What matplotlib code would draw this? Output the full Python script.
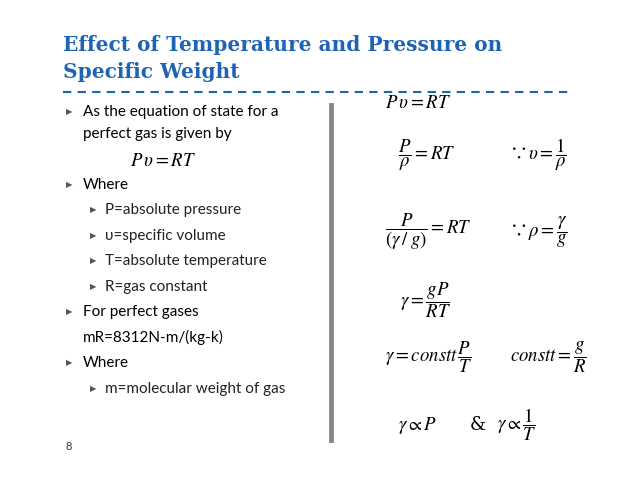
import matplotlib
matplotlib.use("Agg")
import matplotlib.pyplot as plt
from matplotlib.lines import Line2D

plt.rcParams['mathtext.fontset'] = 'stix'

title_lines = ["Effect of Temperature and Pressure on", "Specific Weight"]
# (level, text, y) ; level 0 = main bullet, 1 = sub bullet, -1 = continuation
left_items = [
    (0, "As the equation of state for a", 112),
    (-1, "perfect gas is given by", 134),
    (0, "Where", 185),
    (1, "P=absolute pressure", 210),
    (1, "\u03c5=specific volume", 236),
    (1, "T=absolute temperature", 261),
    (1, "R=gas constant", 287),
    (0, "For perfect gases", 312),
    (-1, "mR=8312N-m/(kg-k)", 337),
    (0, "Where", 363),
    (1, "m=molecular weight of gas", 389),
]
# (math, x, y)
equations = [
    (r"$P\,\upsilon = RT$", 385, 102),
    (r"$\dfrac{P}{\rho} = RT$", 398, 155),
    (r"$\upsilon = \dfrac{1}{\rho}$", 528, 155),
    (r"$\dfrac{P}{(\gamma\,/\;g)} = RT$", 385, 232),
    (r"$\rho = \dfrac{\gamma}{g}$", 528, 232),
    (r"$\gamma = \dfrac{gP}{RT}$", 400, 300),
    (r"$\gamma = constt\,\dfrac{P}{T}$", 385, 357),
    (r"$constt = \dfrac{g}{R}$", 510, 357),
    (r"$\gamma \propto P$", 398, 425),
    (r"$\gamma \propto \dfrac{1}{T}$", 497, 425),
]
plain_symbols = [("\u2235", 510, 155), ("\u2235", 510, 232), ("&", 470, 425)]

W, H = 638, 493
fig = plt.figure(figsize=(W / 100, H / 100), dpi=100)
fig.patch.set_facecolor("white")

def px(x, y):
    return x / W, 1 - y / H

blue = "#1f63b4"
for i, t in enumerate(title_lines):
    fig.text(*px(63, 45 + 27 * i), t, color=blue, fontsize=14.5, fontweight="bold",
             family="DejaVu Serif", va="center")
fig.add_artist(Line2D([63 / W, 572 / W], [1 - 92 / H] * 2, color=blue, lw=1.5,
                      linestyle=(0, (4, 3))))

for lvl, t, y in left_items:
    if lvl == 0:
        fig.text(*px(66, y), "\u25b6", fontsize=6, color="#555555", va="center")
        fig.text(*px(83, y), t, fontsize=11, family="Lato", va="center")
    elif lvl == 1:
        fig.text(*px(90, y), "\u25b6", fontsize=6, color="#555555", va="center")
        fig.text(*px(105, y), t, fontsize=11, family="Lato", va="center", color="#222222")
    else:
        fig.text(*px(83, y), t, fontsize=11, family="Lato", va="center")
fig.text(*px(130, 160), r"$P\,\upsilon = RT$", fontsize=13.5, va="center")
fig.text(*px(66, 447), "8", fontsize=8, family="Lato", va="center", color="#333333")

fig.add_artist(Line2D([331 / W] * 2, [1 - 105 / H, 1 - 440 / H], color="#888888", lw=3.5))

for m, x, y in equations:
    fig.text(*px(x, y), m, fontsize=13.5, va="center")
for s, x, y in plain_symbols:
    fig.text(*px(x, y), s, fontsize=13, va="center",
             family=["DejaVu Serif", "Noto Sans CJK SC", "DejaVu Sans"])

fig.savefig("out.png", dpi=100)
